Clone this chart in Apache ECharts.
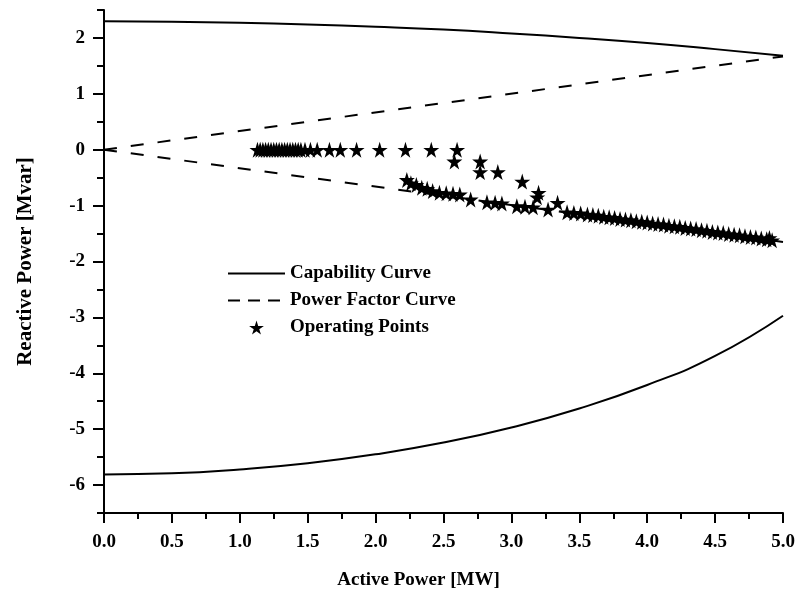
<!DOCTYPE html>
<html><head><meta charset="utf-8">
<script src="https://cdn.jsdelivr.net/npm/echarts@6/dist/echarts.min.js"></script>
<style>html,body{margin:0;padding:0;background:#fff}#c{width:805px;height:598px}</style>
</head><body><div id="c"></div>
<script>
// Capability curve (upper and lower limits)
const capP = [0, 0.5, 1.0, 1.5, 2.0, 2.5, 3.0, 3.5, 4.0, 4.5, 5.0];
const capUpper = [2.30, 2.29, 2.27, 2.24, 2.20, 2.15, 2.08, 2.00, 1.91, 1.80, 1.68];
const capLower = [-5.81, -5.79, -5.72, -5.61, -5.45, -5.24, -4.97, -4.63, -4.21, -3.69, -2.97];
// Power factor curve endpoints
const pfP = [0, 5.0];
const pfUpper = [0, 1.67];
const pfLower = [0, -1.65];
// Operating points
const opP = [1.13,1.15,1.17,1.19,1.21,1.23,1.25,1.27,1.29,1.31,1.33,1.35,1.37,1.39,1.41,1.43,1.45,1.48,1.52,1.57,1.66,1.74,1.86,2.03,2.22,2.41,2.60,
  2.58,2.77,2.77,2.90,3.08,3.20,3.19,3.34,
  2.23,2.26,2.30,2.34,2.38,2.42,2.47,2.52,2.57,2.62,2.70,2.82,2.88,2.93,3.04,3.10,3.16,3.27,3.41,3.46,3.51,3.56,3.60,3.64,3.68,3.72,3.76,3.80,3.84,3.88,3.92,3.96,4.00,4.04,4.08,4.12,4.16,4.20,4.24,4.28,4.32,4.36,4.40,4.44,4.48,4.52,4.56,4.60,4.64,4.68,4.72,4.76,4.80,4.84,4.88,4.92,4.90];
const opQ = [0,0,0,0,0,0,0,0,0,0,0,0,0,0,0,0,0,0,0,0,0,0,0,0,0,0,0,
  -0.21,-0.21,-0.40,-0.40,-0.57,-0.77,-0.85,-0.95,
  -0.54,-0.60,-0.63,-0.68,-0.70,-0.74,-0.77,-0.78,-0.79,-0.80,-0.89,-0.94,-0.95,-0.96,-1.01,-1.02,-1.03,-1.07,-1.12,-1.13,-1.14,-1.16,-1.17,-1.18,-1.20,-1.21,-1.22,-1.24,-1.25,-1.26,-1.28,-1.29,-1.30,-1.32,-1.33,-1.34,-1.36,-1.37,-1.38,-1.40,-1.41,-1.42,-1.44,-1.45,-1.47,-1.48,-1.49,-1.51,-1.52,-1.53,-1.55,-1.56,-1.57,-1.59,-1.60,-1.62,-1.58];
const yMajor = [-6,-5,-4,-3,-2,-1,0,1,2];

const zip = (a,b) => a.map((v,i)=>[v,b[i]]);
const STAR = 'path://M50,0 L61,35 L98,35 L68,57 L79,91 L50,70 L21,91 L32,57 L2,35 L39,35 Z';
const FONT = '"Liberation Serif","Times New Roman",serif';
const lineStyle = {color:'#000', width:2};

const chart = echarts.init(document.getElementById('c'), null, {renderer:'canvas'});
chart.setOption({
  animation:false,
  backgroundColor:'#fff',
  grid:{left:104, right:22, top:10, bottom:85, containLabel:false},
  legend:{
    left:222, top:259, orient:'vertical', itemWidth:57, itemHeight:14, itemGap:8,
    textStyle:{fontFamily:FONT, fontWeight:'bold', fontSize:19, color:'#000'},
    data:[
      {name:'Capability Curve', itemStyle:{opacity:0}},
      {name:'Power Factor Curve', itemStyle:{opacity:0}, lineStyle:{type:[12,8]}},
      {name:'Operating Points', itemStyle:{opacity:1, color:'#000'}}
    ]
  },
  xAxis:{
    type:'value', min:0, max:5, interval:0.5,
    name:'Active Power [MW]', nameLocation:'middle', nameGap:58,
    nameTextStyle:{fontFamily:FONT, fontWeight:'bold', fontSize:19, color:'#000', padding:[0,50,0,0]},
    axisLine:{show:true, onZero:false, lineStyle:{color:'#000', width:2}},
    axisTick:{show:true, inside:false, length:10, lineStyle:{color:'#000', width:2}},
    minorTick:{show:true, splitNumber:2, length:6, lineStyle:{color:'#000', width:2}},
    splitLine:{show:false},
    axisLabel:{margin:20, fontFamily:FONT, fontWeight:'bold', fontSize:19, color:'#000', formatter:v=>v.toFixed(1)}
  },
  yAxis:[{
    type:'value', min:-6.5, max:2.5, interval:0.5,
    name:'Reactive Power [Mvar]', nameLocation:'middle', nameGap:68, nameRotate:90,
    nameTextStyle:{fontFamily:FONT, fontWeight:'bold', fontSize:21, color:'#000'},
    axisLine:{show:true, onZero:false, lineStyle:{color:'#000', width:2}},
    axisTick:{show:true, inside:false, length:7, lineStyle:{color:'#000', width:2}},
    splitLine:{show:false},
    axisLabel:{margin:19, fontFamily:FONT, fontWeight:'bold', fontSize:19, color:'#000',
      formatter:v=> (Math.abs(v-Math.round(v))<1e-9 ? String(Math.round(v)) : '')}
  },{
    type:'value', min:-6.5, max:2.5, interval:0.5, position:'left',
    axisLine:{show:false}, splitLine:{show:false}, axisLabel:{show:false},
    axisTick:{show:true, inside:false, length:11, customValues:yMajor, lineStyle:{color:'#000', width:2}}
  }],
  series:[
    {name:'Capability Curve', type:'line', symbol:'none', data:zip(capP,capUpper), lineStyle:lineStyle, itemStyle:{color:'#000'}, smooth:true},
    {name:'Capability Curve', type:'line', symbol:'none', data:zip(capP,capLower), lineStyle:lineStyle, itemStyle:{color:'#000'}, smooth:true},
    {name:'Power Factor Curve', type:'line', symbol:'none', data:zip(pfP,pfUpper), lineStyle:{color:'#000', width:2, type:[13,14]}, itemStyle:{color:'#000'}},
    {name:'Power Factor Curve', type:'line', symbol:'none', data:zip(pfP,pfLower), lineStyle:{color:'#000', width:2, type:[13,14]}, itemStyle:{color:'#000'}},
    {name:'Operating Points', type:'scatter', symbol:STAR, symbolSize:16, data:zip(opP,opQ), itemStyle:{color:'#000', opacity:1}, z:5}
  ]
});
</script></body></html>
